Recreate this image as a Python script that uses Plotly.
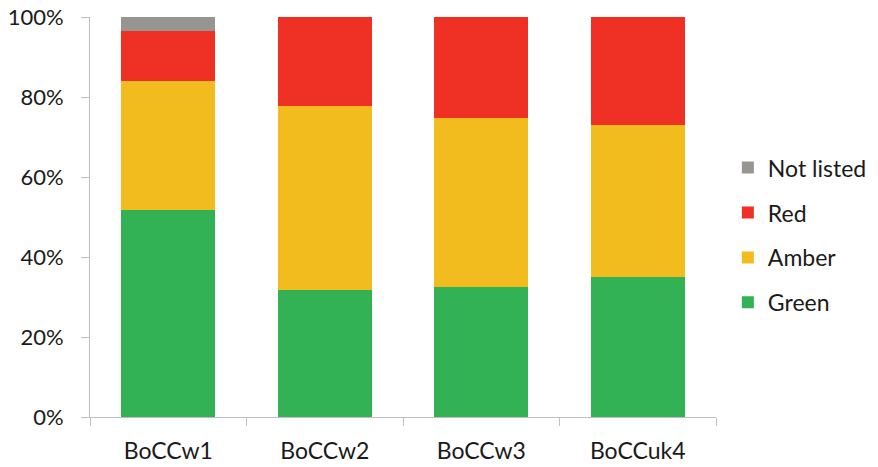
import plotly.graph_objects as go

categories = ["BoCCw1", "BoCCw2", "BoCCw3", "BoCCuk4"]
green = [51.7, 31.8, 32.4, 35.1]
amber = [32.2, 46.0, 42.4, 37.8]
red = [12.6, 22.2, 25.2, 27.1]
not_listed = [3.5, 0.0, 0.0, 0.0]

# (name, values, colour, legend rank: top of legend first)
series = [
    ("Green", green, "#33B155", 4),
    ("Amber", amber, "#F2BC1F", 3),
    ("Red", red, "#EE3124", 2),
    ("Not listed", not_listed, "#969592", 1),
]

font_family = "Lato, 'Open Sans', sans-serif"

fig = go.Figure()
for name, vals, color, rank in series:
    fig.add_trace(go.Bar(
        x=categories, y=vals, name=name, legendgroup=name, legendrank=rank,
        marker=dict(color=color, line=dict(width=0)),
    ))

fig.update_layout(
    barmode="stack",
    bargap=0.4,
    width=878, height=467,
    margin=dict(l=90, r=162, t=17, b=50, autoexpand=False),
    plot_bgcolor="white", paper_bgcolor="white",
    font=dict(family=font_family, size=21, color="#1a1a1a"),
    legend=dict(
        traceorder="grouped",
        tracegroupgap=12,
        xref="container", yref="container",
        x=0.829, xanchor="left",
        y=0.687, yanchor="top",
        font=dict(size=23),
        bgcolor="rgba(0,0,0,0)",
    ),
    xaxis=dict(
        showline=True, linecolor="#BFBFBF", linewidth=1,
        ticks="outside", tickson="boundaries", ticklen=8, tickcolor="#BFBFBF",
        showgrid=False, tickfont=dict(size=23), automargin=False,
        ticklabelstandoff=13,
    ),
    yaxis=dict(
        range=[0, 100], tickvals=[0, 20, 40, 60, 80, 100],
        ticktext=["0%", "20%", "40%", "60%", "80%", "100%"],
        showline=True, linecolor="#BFBFBF", linewidth=1,
        ticks="outside", ticklen=8, tickcolor="#BFBFBF",
        showgrid=False, zeroline=False, ticklabelstandoff=13,
        tickfont=dict(size=22), automargin=False,
    ),
)

fig.write_html("out.html")
